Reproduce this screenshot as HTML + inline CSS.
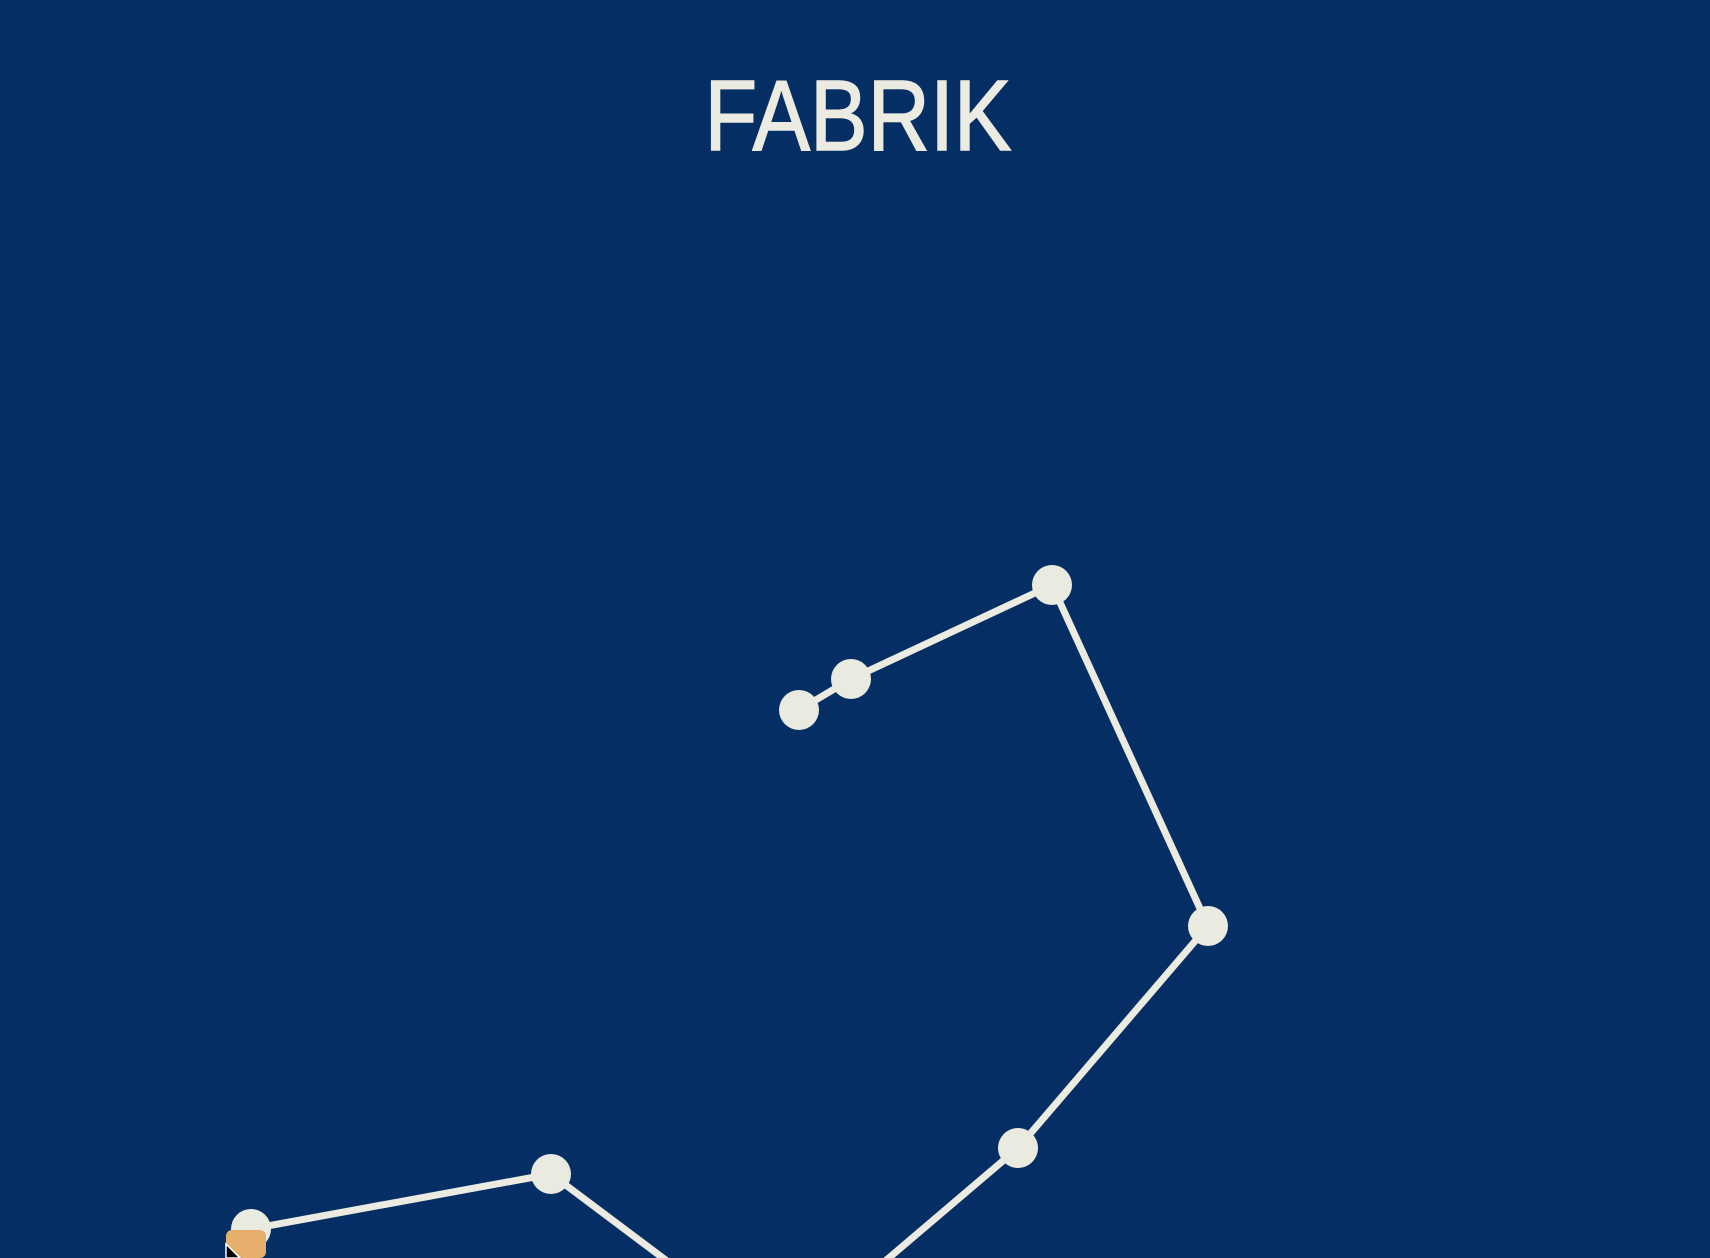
<!DOCTYPE html>
<html><head><meta charset="utf-8"><style>
html,body{margin:0;padding:0;background:#052f64;overflow:hidden;width:1710px;height:1258px;}
svg{display:block;}
</style></head><body>
<svg id="c" width="1710" height="1258" viewBox="0 0 1710 1258">
<rect width="1710" height="1258" fill="#052f64"/>
<text x="858" y="150" font-family="'Liberation Sans',sans-serif" font-size="100" fill="#ebebe1" text-anchor="middle" textLength="307" lengthAdjust="spacingAndGlyphs" stroke="#ebebe1" stroke-width="1.5">FABRIK</text>
<g id="chain"></g>
<rect x="226" y="1230" width="40" height="28" rx="6" fill="#e5ae6b"/>
<path d="M226 1244 L226 1258 L240 1258 Z" fill="#000" stroke="#fff" stroke-width="1.5"/>
</svg>
<script>
const jointX = [799, 851, 1052, 1208, 1018, 850, 719, 551, 251];
const jointY = [710, 679, 585, 926, 1148, 1291, 1300, 1174, 1229];
const NS = 'http://www.w3.org/2000/svg';
const g = document.getElementById('chain');
for (let i = 0; i < jointX.length - 1; i++) {
  const l = document.createElementNS(NS, 'line');
  l.setAttribute('x1', jointX[i]); l.setAttribute('y1', jointY[i]);
  l.setAttribute('x2', jointX[i+1]); l.setAttribute('y2', jointY[i+1]);
  l.setAttribute('stroke', '#ebebe1'); l.setAttribute('stroke-width', '7');
  
  
  g.appendChild(l);
}
for (let i = 0; i < jointX.length; i++) {
  const c = document.createElementNS(NS, 'circle');
  c.setAttribute('cx', jointX[i]); c.setAttribute('cy', jointY[i]);
  c.setAttribute('r', '20'); c.setAttribute('fill', '#e9ebe0');
  
  
  g.appendChild(c);
}
</script>
</body></html>
